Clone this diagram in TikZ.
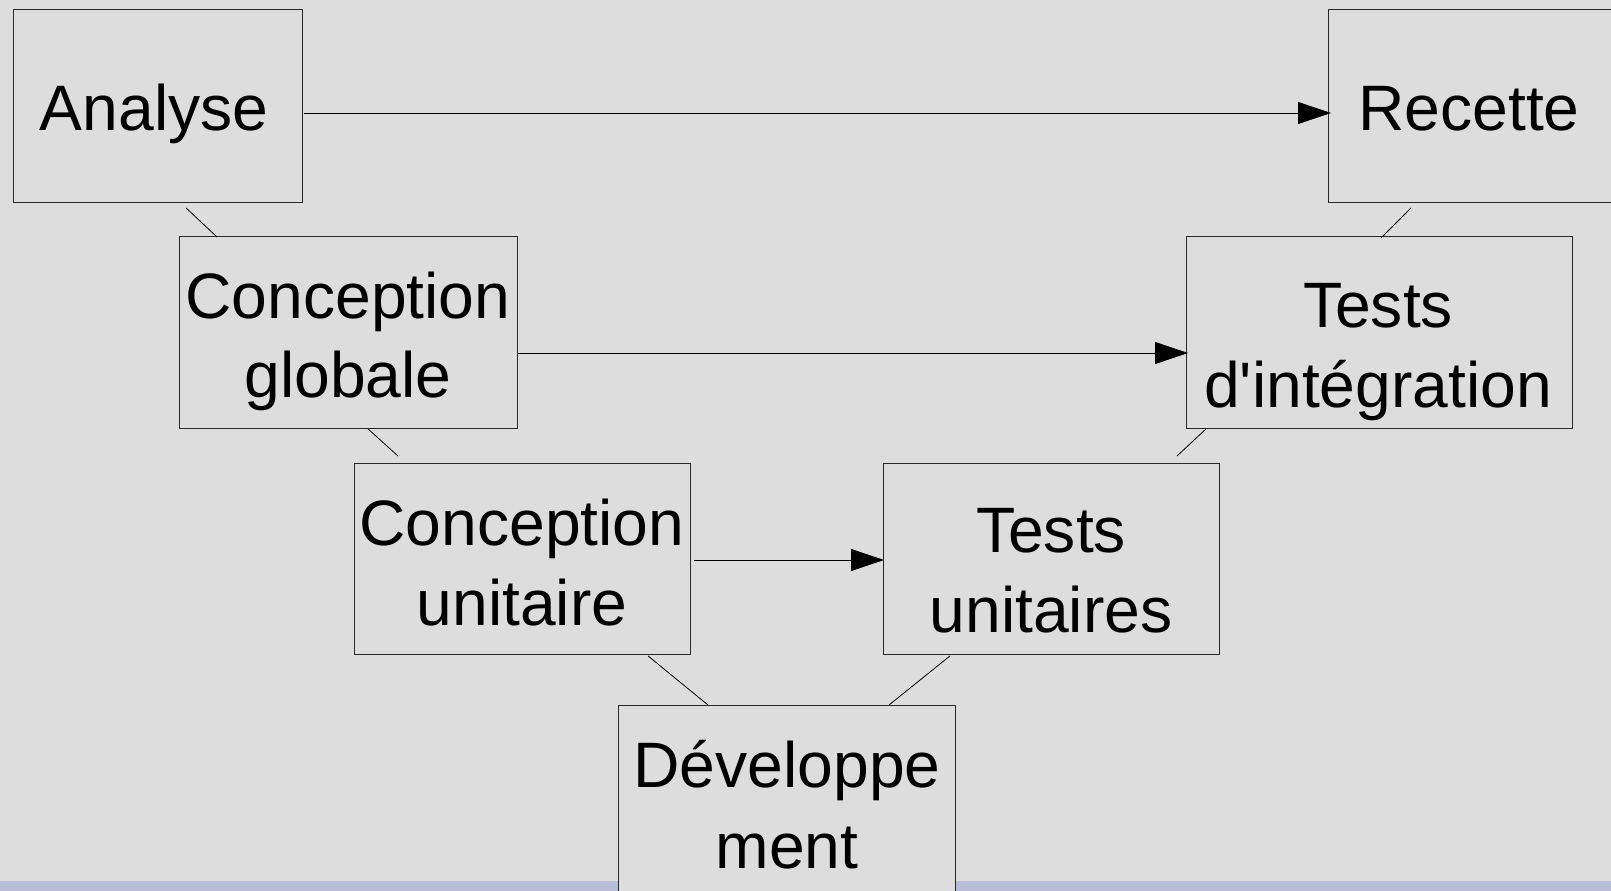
\documentclass[tikz,border=0pt]{standalone}
\usepackage{fontspec}
\setmainfont{Liberation Sans}[Ligatures=TeXOff]
\usetikzlibrary{arrows.meta,calc}
\definecolor{bg}{RGB}{221,221,221}
\definecolor{strip}{RGB}{184,189,216}
\definecolor{edge}{RGB}{40,40,40}
\tikzset{
  stage/.style={draw=edge, fill=bg, line width=0.9pt, inner sep=0pt, anchor=north west},
  txt/.style={anchor=base, inner sep=0pt, font=\fontsize{64.2}{80}\selectfont},
  link/.style={draw=black, line width=0.8pt},
  flow/.style={draw=black, line width=0.8pt, -{Triangle[length=33pt,width=22pt]}},
}
\begin{document}
\begin{tikzpicture}[x=1pt, y=-1pt]
  \useasboundingbox (0,0) rectangle (1611,891);
  \clip (0,0) rectangle (1611,891);
  \fill[bg] (0,0) rectangle (1611,891);
  \fill[strip] (0,881) rectangle (1611,891);

  % stage boxes
  \node[stage, minimum width=289pt, minimum height=193pt] (ana) at (13,9) {};
  \node[stage, minimum width=289pt, minimum height=193pt] (rec) at (1328,9) {};
  \node[stage, minimum width=338pt, minimum height=192pt] (cg)  at (179,236) {};
  \node[stage, minimum width=386pt, minimum height=192pt] (ti)  at (1186,236) {};
  \node[stage, minimum width=336pt, minimum height=191pt] (cu)  at (354,463) {};
  \node[stage, minimum width=336pt, minimum height=191pt] (tu)  at (883,463) {};
  \node[stage, minimum width=337pt, minimum height=200pt] (dev) at (618,705) {};

  % labels
  \node[txt] (tana)  at (154,130)  {Analyse};
  \node[txt] (trec)  at (1469,130) {Recette};
  \node[txt] (tcg1)  at (348,318)  {Conception};
  \node[txt] (tcg2)  at (348,397)  {globale};
  \node[txt] (tti1)  at (1378,327) {Tests};
  \node[txt] (tti2)  at (1378,407) {d'intégration};
  \node[txt] (tcu1)  at (522,545)  {Conception};
  \node[txt] (tcu2)  at (522,625)  {unitaire};
  \node[txt] (ttu1)  at (1051,552) {Tests};
  \node[txt] (ttu2)  at (1051,632) {unitaires};
  \node[txt] (tdev1) at (787,787)  {Développe};
  \node[txt] (tdev2) at (787,868)  {ment};

  % links along the V
  \draw[link] ($(ana.south west)+(173,5)$) -- ($(cg.north west)+(38,1)$);
  \draw[link] ($(cg.south west)+(189,0)$)  -- ($(cu.north west)+(44,-7)$);
  \draw[link] ($(cu.south west)+(294,1)$)  -- ($(dev.north west)+(90,0)$);
  \draw[link] ($(tu.south west)+(67,1)$)   -- ($(dev.north west)+(271,0)$);
  \draw[link] ($(ti.south west)+(20,0)$)   -- ($(tu.north west)+(294,-7)$);
  \draw[link] ($(rec.south west)+(83,5)$)  -- ($(ti.north west)+(195,2)$);

  % verification arrows
  \draw[flow] ($(ana.north east)+(1,104)$) -- ($(rec.north west)+(3,104)$);
  \draw[flow] ($(cg.north east)+(0,117)$)  -- ($(ti.north west)+(2,117)$);
  \draw[flow] ($(cu.north east)+(3,97)$)   -- ($(tu.north west)+(1,97)$);
\end{tikzpicture}
\end{document}
